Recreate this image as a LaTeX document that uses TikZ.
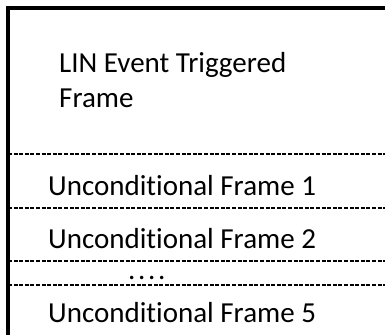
\documentclass[tikz,border=0pt]{standalone}
\usepackage{fontspec}
\setmainfont[Ligatures=NoCommon]{Carlito}
\usetikzlibrary{positioning}

\begin{document}
\begin{tikzpicture}[x=1pt, y=-1pt,
outline/.style={line width=3.2pt},
slotline/.style={line width=2pt, dash pattern=on 4pt off 1.6pt},
slotlabel/.style={anchor=base west, inner sep=0pt, font=\fontsize{29}{35}\selectfont}]

%%%%%% SETTINGS %%%%%%%%%%

\useasboundingbox (0,0) rectangle (385,335);

%%%%%% FRAME %%%%%%%%%%

\draw [outline] (8,335) -- (8,8) -- (385,8);

\foreach \y in {154, 208, 261, 285}{\draw [slotline] (8,\y) -- (385,\y);}

%%%%%% LABELS %%%%%%%%%%

\node [slotlabel] (event) at (59,72) {LIN Event Triggered};
\node [slotlabel] (eventb) at (59,107) {Frame};
\node [slotlabel] (uf1) at (48,195) {Unconditional Frame 1};
\node [slotlabel] (uf2) at (48,248) {Unconditional Frame 2};
\node [slotlabel] (dots) at (128,279) {.\kern2.7pt.\kern2.7pt.\kern2.7pt.};
\node [slotlabel] (uf5) at (48,322) {Unconditional Frame 5};
\end{tikzpicture}
\end{document}
